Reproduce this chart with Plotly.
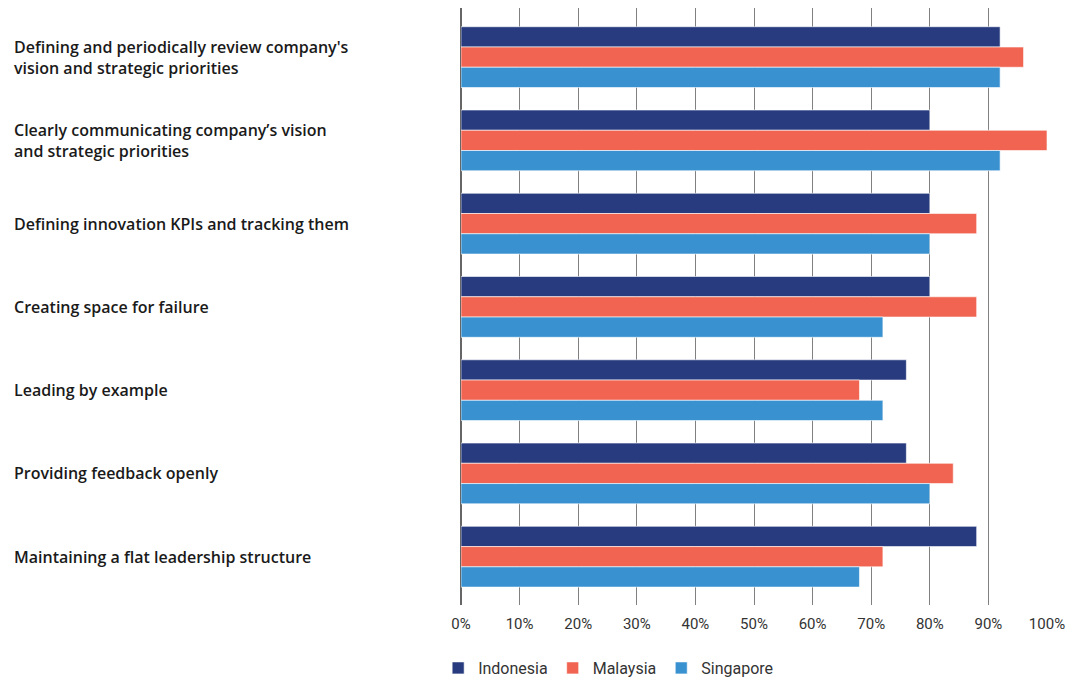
import plotly.graph_objects as go

# categories, top to bottom
categories = [
    "Defining and periodically review company's<br>vision and strategic priorities",
    "Clearly communicating company’s vision<br>and strategic priorities",
    "Defining innovation KPIs and tracking them",
    "Creating space for failure",
    "Leading by example",
    "Providing feedback openly",
    "Maintaining a flat leadership structure",
]

indonesia = [92, 80, 80, 80, 76, 76, 88]
malaysia = [96, 100, 88, 88, 68, 84, 72]
singapore = [92, 92, 80, 72, 72, 80, 68]

tick_vals = [0, 10, 20, 30, 40, 50, 60, 70, 80, 90, 100]
tick_text = [f"{v}%" for v in tick_vals]

series = [
    ("Indonesia", indonesia, "#273b7e"),
    ("Malaysia", malaysia, "#f06451"),
    ("Singapore", singapore, "#3a91d0"),
]

narrow = "Roboto, Open Sans, sans-serif"

fig = go.Figure()
for name, vals, color in series:
    fig.add_trace(go.Bar(
        y=categories,
        x=vals,
        name=name,
        orientation="h",
        marker=dict(color=color, line=dict(color="rgba(255,255,255,0.6)", width=1)),
    ))

# left aligned category labels
for cat in categories:
    fig.add_annotation(
        x=-0.7662, xref="paper", y=cat, yref="y",
        text=cat, showarrow=False,
        xanchor="left", yanchor="middle", align="left",
        font=dict(family="Open Sans", size=16, color="#1a1a1a", weight=600),
    )

# page body has an 8px margin, so the figure is sized to fit the window
fig.update_layout(
    width=1077,
    height=673,
    barmode="group",
    bargap=0.27,
    bargroupgap=0,
    plot_bgcolor="white",
    paper_bgcolor="white",
    margin=dict(l=453, r=38, t=0, b=76),
    font=dict(family=narrow, size=16, color="#333333"),
    showlegend=True,
    legend=dict(
        orientation="h", x=-0.039, xanchor="left",
        yref="container", y=0.0193, yanchor="middle",
        font=dict(family=narrow, size=16, color="#333333"), traceorder="normal",
        itemwidth=30,
    ),
    xaxis=dict(
        range=[0, 100],
        tickvals=tick_vals,
        ticktext=tick_text,
        showgrid=True,
        gridcolor="#808080",
        gridwidth=1,
        zeroline=True,
        zerolinecolor="#666666",
        zerolinewidth=2,
        ticks="",
        ticklabelstandoff=8,
        tickfont=dict(family=narrow, size=15, color="#333333"),
        fixedrange=True,
    ),
    yaxis=dict(
        categoryorder="array",
        categoryarray=categories,
        range=[6.58, -0.59],
        showticklabels=False,
        showgrid=False,
        ticks="",
        fixedrange=True,
    ),
)

fig.write_html("out.html")
